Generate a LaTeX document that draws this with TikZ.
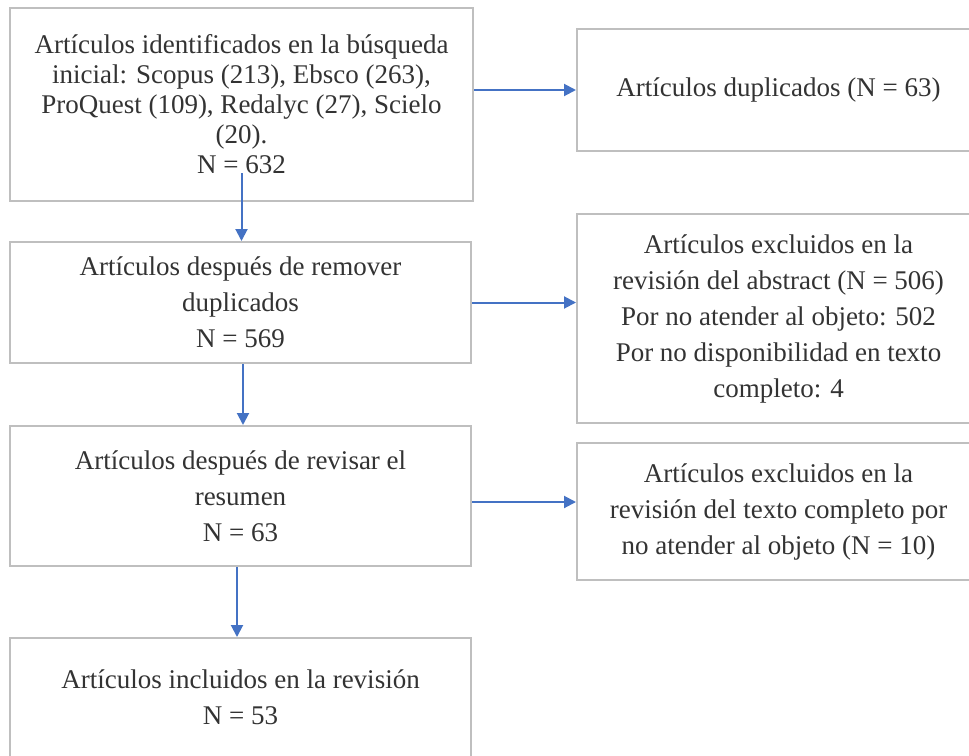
\documentclass[tikz,border=0pt]{standalone}
\usepackage{fontspec}
\setmainfont{Liberation Serif}
\usetikzlibrary{arrows.meta}
\definecolor{boxgray}{HTML}{BFBFBF}
\definecolor{arrblue}{HTML}{4472C4}
\definecolor{txtgray}{HTML}{333333}
\begin{document}
\begin{tikzpicture}[x=1pt,y=-1pt,
  flowbox/.style={draw=boxgray, line width=2pt, inner sep=0pt, align=center,
    text=txtgray, font=\fontsize{27}{36}\selectfont},
  tightbox/.style={flowbox, font=\fontsize{27}{30}\selectfont},
  flowarrow/.style={draw=arrblue, line width=2pt, -{Triangle[length=12pt,width=12pt]}}]
\useasboundingbox (0,0) rectangle (969,755);
\clip (0,0) rectangle (969,755);
\fill[white] (0,0) rectangle (969,755);

\node[tightbox, minimum width=463pt, minimum height=193pt] (b1) at (241.5,104.5)
  {Artículos identificados en la búsqueda\\inicial: Scopus (213), Ebsco (263),\\ProQuest (109), Redalyc (27), Scielo\\(20).\\N = 632};
\node[flowbox, minimum width=461pt, minimum height=121pt] (b2) at (240.5,302.5)
  {Artículos después de remover\\duplicados\\N = 569};
\node[flowbox, minimum width=461pt, minimum height=140pt] (b3) at (240.5,496)
  {Artículos después de revisar el\\resumen\\N = 63};
\node[flowbox, minimum width=461pt, minimum height=119pt] (b4) at (240.5,697.5)
  {Artículos incluidos en la revisión\\N = 53};

\node[flowbox, minimum width=403pt, minimum height=122pt] (dup) at (778.5,90)
  {Artículos duplicados (N = 63)};
\node[flowbox, minimum width=403pt, minimum height=209pt] (ex1) at (778.5,318.5)
  {Artículos excluidos en la\\revisión del abstract (N = 506)\\Por no atender al objeto: 502\\Por no disponibilidad en texto\\completo: 4};
\node[flowbox, minimum width=403pt, minimum height=137pt] (ex2) at (778.5,511.5)
  {Artículos excluidos en la\\revisión del texto completo por\\no atender al objeto (N = 10)};

\draw[flowarrow] (b1.east |- dup.west) -- (dup.west);
\draw[flowarrow] (b2.east) -- (b2.east -| ex1.west);
\draw[flowarrow] ([yshift=-6pt]b3.east) -- ([yshift=-6pt]b3.east -| ex2.west);

\draw[flowarrow] ([yshift=29pt]b1.south) -- (b1.south |- b2.north);
\draw[flowarrow] ([xshift=2.5pt]b2.south) -- ([xshift=2.5pt]b2.south |- b3.north);
\draw[flowarrow] ([xshift=-3.5pt]b3.south) -- ([xshift=-3.5pt]b3.south |- b4.north);
\end{tikzpicture}
\end{document}
